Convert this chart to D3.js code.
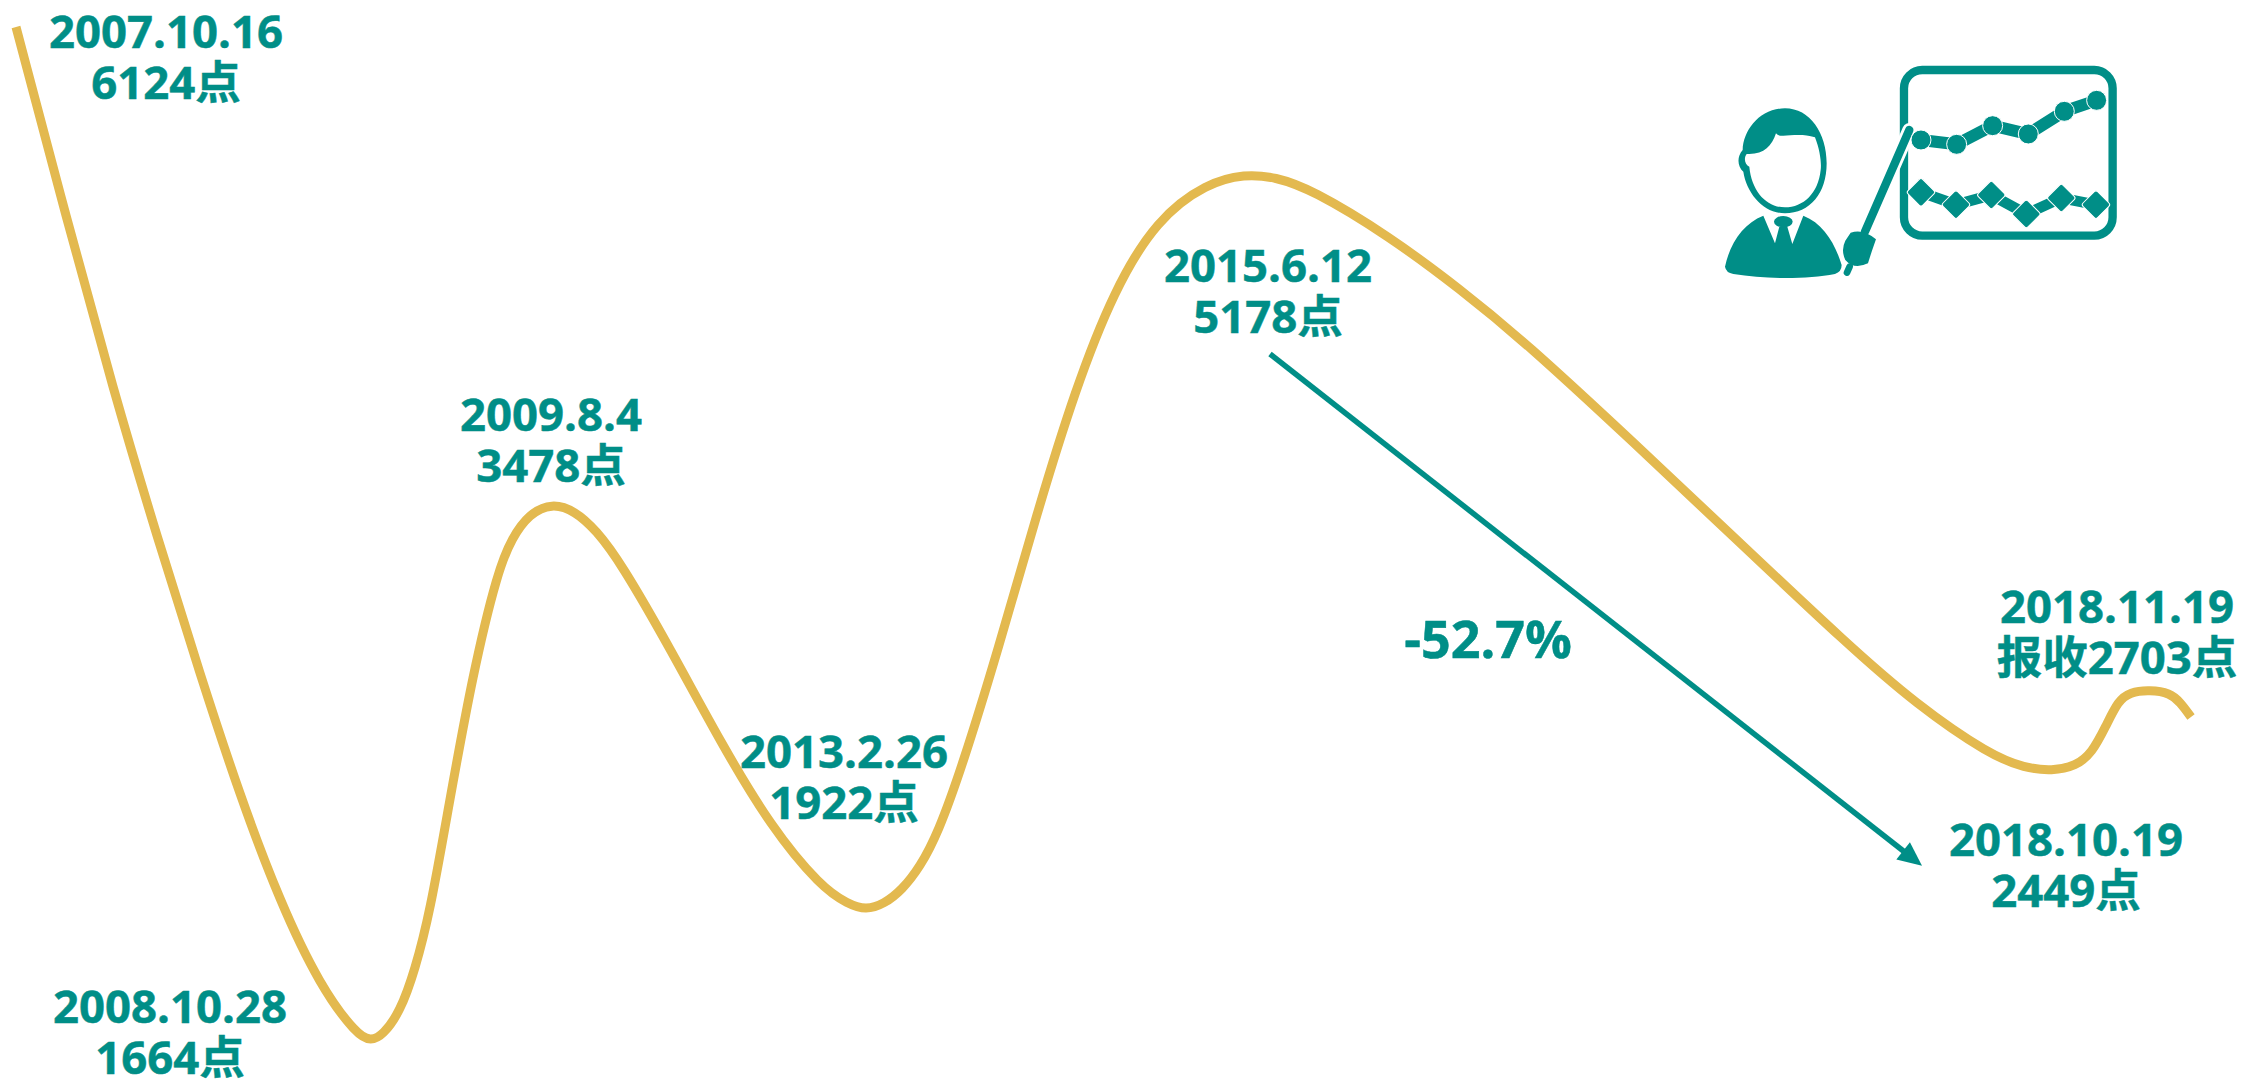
<!DOCTYPE html>
<html>
<head>
<meta charset="utf-8">
<script src="https://cdn.jsdelivr.net/npm/d3@7"></script>
<style>
  html, body { margin: 0; background: #fff; }
  svg { display: block; }
  text { font-family: "Open Sans", "Noto Sans CJK SC", sans-serif; font-weight: 700; fill: #008e87; stroke: #008e87; stroke-width: 0.5; text-anchor: middle; }
</style>
</head>
<body>
<svg id="chart" width="2242" height="1079"></svg>
<script>
// schematic curve: the picture has no axes, so position and height are read in picture units
const curvePos = [16, 67, 113, 158, 200, 240, 280, 320, 357, 371, 383, 400, 415, 430, 448, 473, 498, 512, 529, 552, 575, 596, 621, 671, 721, 771, 821, 848, 866, 884, 902, 920, 938, 962, 998, 1037, 1075, 1114, 1157, 1207, 1245, 1275, 1311, 1389, 1460, 1525, 1632, 1739, 1846, 1917, 1990, 2025, 2052, 2076, 2092, 2106, 2118, 2130, 2150, 2170, 2180, 2191];
const curveHeight = [1052, 859, 690, 539, 405, 283, 177, 93, 44, 38, 44, 67, 109, 167, 269, 407, 509, 541, 565, 576, 568, 549, 516, 429, 336, 252, 192, 175, 169, 175, 189, 212, 246, 312, 429, 566, 689, 789, 860, 896, 905, 902, 890, 843, 790, 737, 638, 537, 436, 374, 324, 311, 308, 313, 326, 353, 378, 387, 389, 386, 377, 362];

// annotations
const labelDates = ['2007.10.16', '2008.10.28', '2009.8.4', '2013.2.26', '2015.6.12', '2018.10.19', '2018.11.19'];
const labelPoints = ['6124点', '1664点', '3478点', '1922点', '5178点', '2449点', '报收2703点'];
const labelPos = [166, 170, 551, 844, 1268, 2066, 2117];
const labelHeight = [1031, 56, 648, 311, 797, 223, 456];
const changeLabel = '-52.7%';
const arrowPos = [1270, 1911];
const arrowHeight = [725, 222];

// little presenter icon, drawn in its own 3x grid
const boardCircleX = [663, 770, 878, 985, 1093, 1190];
const boardCircleY = [270, 283, 227, 252, 184, 151];
const boardDiamondX = [663, 768, 874, 979, 1084, 1188];
const boardDiamondY = [427, 464, 435, 492, 444, 464];

const teal = '#008e87';
const gold = '#e3b94f';
const width = 2242;
const height = 1079;

const x = d3.scaleLinear().domain([0, width]).range([0, width]);
const y = d3.scaleLinear().domain([0, height]).range([height, 0]);

const svg = d3.select('#chart');

const line = d3.line()
  .x(d => x(d[0]))
  .y(d => y(d[1]))
  .curve(d3.curveBasis);

svg.append('path')
  .attr('d', line(d3.zip(curvePos, curveHeight)))
  .attr('fill', 'none')
  .attr('stroke', gold)
  .attr('stroke-width', 9);

// arrow from the 2015 top to the 2018 low
svg.append('defs').append('marker')
  .attr('id', 'head')
  .attr('markerUnits', 'userSpaceOnUse')
  .attr('viewBox', '0 0 26 26')
  .attr('refX', 12)
  .attr('refY', 13)
  .attr('markerWidth', 26)
  .attr('markerHeight', 26)
  .attr('orient', 'auto')
  .append('path')
  .attr('d', 'M2,2 L26,13 L2,24 Z')
  .attr('fill', teal);

svg.append('line')
  .attr('x1', x(arrowPos[0]))
  .attr('y1', y(arrowHeight[0]))
  .attr('x2', x(arrowPos[1]))
  .attr('y2', y(arrowHeight[1]))
  .attr('stroke', teal)
  .attr('stroke-width', 5.5)
  .attr('marker-end', 'url(#head)');

// two-line labels
const labels = svg.selectAll('g.label')
  .data(labelDates)
  .join('g')
  .attr('class', 'label')
  .attr('transform', (_, i) => `translate(${x(labelPos[i])},${y(labelHeight[i])})`);

labels.append('text')
  .attr('font-size', 45.5)
  .text(d => d);

labels.append('text')
  .attr('font-size', 45.5)
  .attr('y', 51)
  .text((_, i) => labelPoints[i]);

svg.append('text')
  .attr('x', 1488)
  .attr('y', 658)
  .attr('font-size', 52)
  .text(changeLabel);

// icon
const icon = svg.append('g')
  .attr('transform', 'translate(1700,50) scale(0.3333)')
  .attr('fill', teal);

icon.append('rect')
  .attr('x', 612).attr('y', 60).attr('width', 626).attr('height', 497).attr('rx', 55)
  .attr('fill', 'none').attr('stroke', teal).attr('stroke-width', 25);

const stick = [[628, 240], [495, 545]];
icon.append('path').attr('d', d3.line()(stick))
  .attr('stroke', '#fff').attr('stroke-width', 42).attr('stroke-linecap', 'round');
icon.append('path').attr('d', d3.line()(stick))
  .attr('stroke', teal).attr('stroke-width', 25).attr('stroke-linecap', 'round');

// hand and the stick stub under it
icon.append('path').attr('d', 'M452,548 Q490,535 528,568 L516,602 L504,640 Q462,660 436,630 Q422,600 436,572 Z');
icon.append('path').attr('d', 'M449,650 L441,668')
  .attr('stroke', teal).attr('stroke-width', 20).attr('stroke-linecap', 'round');

// board series: connectors first, then markers with a white edge
icon.append('path').attr('d', d3.line()(d3.zip(boardCircleX, boardCircleY)))
  .attr('fill', 'none').attr('stroke', teal).attr('stroke-width', 36);
icon.append('path').attr('d', d3.line()(d3.zip(boardDiamondX, boardDiamondY)))
  .attr('fill', 'none').attr('stroke', teal).attr('stroke-width', 32);

icon.selectAll('circle.mark')
  .data(d3.zip(boardCircleX, boardCircleY))
  .join('circle')
  .attr('class', 'mark')
  .attr('cx', d => d[0]).attr('cy', d => d[1]).attr('r', 30)
  .attr('stroke', '#fff').attr('stroke-width', 3);

icon.selectAll('rect.mark')
  .data(d3.zip(boardDiamondX, boardDiamondY))
  .join('rect')
  .attr('class', 'mark')
  .attr('x', -31).attr('y', -31).attr('width', 62).attr('height', 62).attr('rx', 7)
  .attr('transform', d => `translate(${d[0]},${d[1]}) rotate(45)`)
  .attr('stroke', '#fff').attr('stroke-width', 3);

// head
icon.append('path').attr('d', 'M255,175 C330,175 380,250 380,340 C380,430 330,490 255,490 C190,490 140,430 130,365 C112,350 110,320 128,300 C130,240 180,175 255,175 Z');
icon.append('path').attr('fill', '#fff').attr('d', 'M228,250 C240,268 290,245 345,262 C360,300 365,340 362,360 C355,430 310,472 255,472 C200,472 155,425 148,350 C135,345 130,325 140,312 C190,315 215,290 228,250 Z');

// suit and tie
icon.append('path').attr('d', 'M190,497 C130,520 90,580 75,650 Q78,668 100,672 C200,688 320,688 405,672 Q425,665 425,645 C405,580 370,520 310,497 L277,582 L262,530 L238,530 L225,580 Z');
icon.append('ellipse').attr('cx', 250).attr('cy', 515).attr('rx', 28).attr('ry', 17);
</script>
</body>
</html>
